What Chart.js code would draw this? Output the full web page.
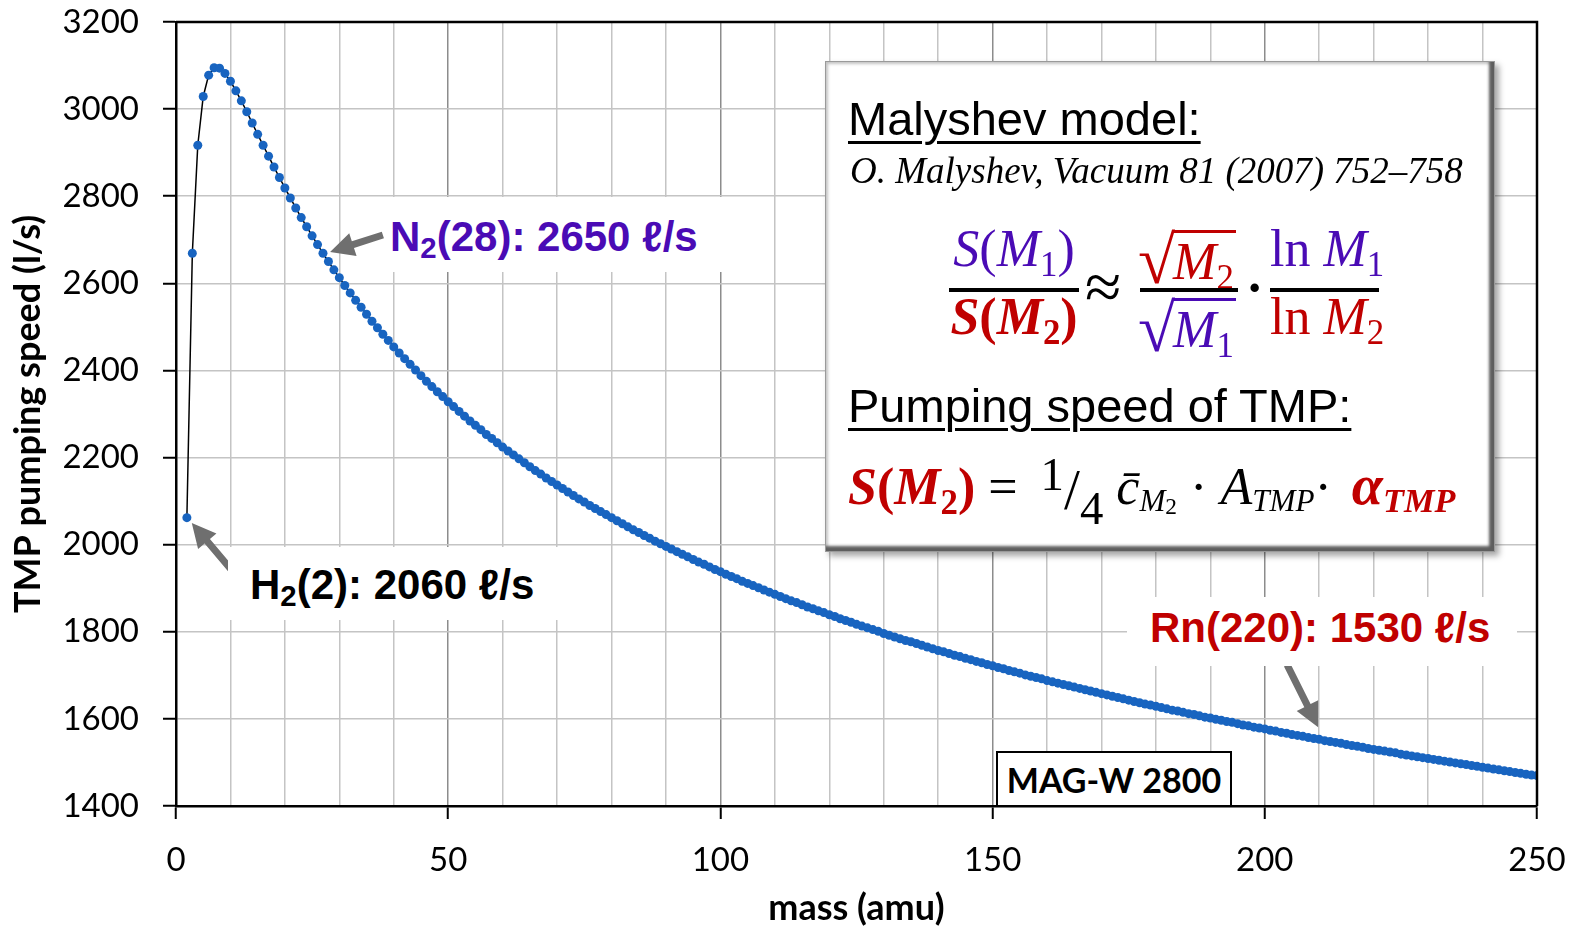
<!DOCTYPE html>
<html>
<head>
<meta charset="utf-8">
<title>TMP pumping speed vs mass</title>
<script src="https://cdn.jsdelivr.net/npm/chart.js@4.4.0/dist/chart.umd.min.js"></script>
<style>
  body { margin: 0; background: #fff; }
  #wrap { position: relative; width: 1579px; height: 932px; }
  .abs { position: absolute; white-space: nowrap; line-height: 1; }
  .bg { position: absolute; background: #fff; }
  .note { font-family: 'Liberation Sans', Arial, sans-serif; font-weight: bold; font-size: 42px; }
  .sb { font-size: 0.7em; position: relative; top: 0.24em; line-height: 0; }
  .pur { color: #4a0bb5; }
  .red { color: #c00000; }
  .hdr { font-family: 'Liberation Sans', Arial, sans-serif; font-size: 47px; text-decoration: underline;
         text-decoration-thickness: 3px; text-underline-offset: 6px; }
  .cite { font-family: 'Liberation Serif', serif; font-style: italic; font-size: 37px; }
  .m { font-family: 'Liberation Serif', serif; font-size: 52px; }
  .ctr { text-align: center; }
  .ms { font-size: 0.67em; position: relative; top: 0.3em; line-height: 0; font-style: normal; }
  .ms2 { font-size: 0.6em; position: relative; top: 0.22em; line-height: 0; }
  .ms3 { font-size: 0.75em; position: relative; top: 0.15em; line-height: 0; }
  .bar { position: absolute; background: #000; height: 4px; }
  .rad { display: inline-block; font-size: 1.3em; position: relative; top: 0.06em; margin-right: -2px; }
  .ov { border-top: 3px solid currentColor; padding-right: 2px; }
  .up1 { font-size: 0.9em; position: relative; top: -0.3em; }
  .dn4 { font-size: 0.9em; position: relative; top: 0.42em; }
  .sl { font-size: 1.1em; position: relative; top: 0.08em; }
  #fbox { position: absolute; background: #fff; border: 1px solid #9a9a9a; box-sizing: border-box;
          box-shadow: inset -7px -7px 3px -2px #5e5e5e, inset 4px 4px 3px -2px #c4c4c4, 4px 4px 6px rgba(0,0,0,0.35); }
  #mag { position: absolute; border: 2px solid #000; background: #fff; box-sizing: border-box;
         display: flex; align-items: center; justify-content: center;
         font-family: Lato, sans-serif; font-weight: bold; font-size: 34px; }
</style>
</head>
<body>
<div id="wrap">
  <canvas id="chart"></canvas>

  <!-- labels for the three gases -->
  <div class="bg" style="left:385px;top:197px;width:340px;height:75px"></div>
  <div class="abs note pur" style="left:390px;top:216px">N<span class="sb">2</span>(28): 2650 ℓ/s</div>

  <div class="bg" style="left:228px;top:547px;width:332px;height:73px"></div>
  <div class="abs note" style="left:250px;top:564px">H<span class="sb">2</span>(2): 2060 ℓ/s</div>

  <div class="bg" style="left:1127px;top:597px;width:390px;height:69px"></div>
  <div class="abs note red" style="left:1150px;top:607px">Rn(220): 1530 ℓ/s</div>

  <div id="mag" style="left:996px;top:751px;width:236px;height:56px">MAG-W 2800</div>

  <!-- model box -->
  <div id="fbox" style="left:825px;top:61px;width:670px;height:491px"></div>
  <div class="abs hdr" style="left:848px;top:95px">Malyshev model:</div>
  <div class="abs cite" style="left:850px;top:152px">O. Malyshev, Vacuum 81 (2007) 752–758</div>

  <div class="abs m pur ctr" style="left:949px;top:223px;width:130px"><i>S</i>(<i>M</i><span class="ms">1</span>)</div>
  <div class="bar" style="left:949px;top:288px;width:130px"></div>
  <div class="abs m red ctr" style="left:949px;top:291px;width:130px;font-weight:bold"><i>S</i>(<i>M</i><span class="ms">2</span>)</div>

  <div class="abs m" style="left:1085px;top:254px;font-size:66px">≈</div>

  <div class="abs m red" style="left:1138px;top:223px"><span class="rad">√</span><span class="ov"><i>M</i><span class="ms">2</span></span></div>
  <div class="bar" style="left:1140px;top:288px;width:98px"></div>
  <div class="abs m pur" style="left:1138px;top:291px"><span class="rad">√</span><span class="ov"><i>M</i><span class="ms">1</span></span></div>

  <div class="abs m" style="left:1246px;top:262px;font-weight:bold">·</div>

  <div class="abs m pur ctr" style="left:1270px;top:223px;width:109px">ln <i>M</i><span class="ms">1</span></div>
  <div class="bar" style="left:1270px;top:288px;width:109px"></div>
  <div class="abs m red ctr" style="left:1270px;top:291px;width:109px">ln <i>M</i><span class="ms">2</span></div>

  <div class="abs hdr" style="left:848px;top:382px">Pumping speed of TMP:</div>

  <div class="abs m" style="left:848px;top:456px"><b class="red"><i>S</i>(<i>M</i><span class="ms">2</span>)</b> <span style="margin-right:10px">=</span> <span class="up1">1</span><span class="sl">/</span><span class="dn4">4</span> <i>c̄</i><span class="ms2"><i>M</i><span class="ms3">2</span></span> · <i>A</i><span class="ms2"><i>TMP</i></span>·<span style="margin-left:20px"></span><b class="red"><i style="font-size:1.08em">α</i><span class="ms2" style="font-size:0.66em"><i>TMP</i></span></b></div>
</div>

<script>
// mass (amu) of every computed point
const masses = [
  2, 3, 4, 5, 6, 7, 8, 9, 10, 11, 12, 13, 14, 15, 16, 17, 18, 19, 20, 21,
  22, 23, 24, 25, 26, 27, 28, 29, 30, 31, 32, 33, 34, 35, 36, 37, 38, 39, 40, 41,
  42, 43, 44, 45, 46, 47, 48, 49, 50, 51, 52, 53, 54, 55, 56, 57, 58, 59, 60, 61,
  62, 63, 64, 65, 66, 67, 68, 69, 70, 71, 72, 73, 74, 75, 76, 77, 78, 79, 80, 81,
  82, 83, 84, 85, 86, 87, 88, 89, 90, 91, 92, 93, 94, 95, 96, 97, 98, 99, 100, 101,
  102, 103, 104, 105, 106, 107, 108, 109, 110, 111, 112, 113, 114, 115, 116, 117, 118, 119, 120, 121,
  122, 123, 124, 125, 126, 127, 128, 129, 130, 131, 132, 133, 134, 135, 136, 137, 138, 139, 140, 141,
  142, 143, 144, 145, 146, 147, 148, 149, 150, 151, 152, 153, 154, 155, 156, 157, 158, 159, 160, 161,
  162, 163, 164, 165, 166, 167, 168, 169, 170, 171, 172, 173, 174, 175, 176, 177, 178, 179, 180, 181,
  182, 183, 184, 185, 186, 187, 188, 189, 190, 191, 192, 193, 194, 195, 196, 197, 198, 199, 200, 201,
  202, 203, 204, 205, 206, 207, 208, 209, 210, 211, 212, 213, 214, 215, 216, 217, 218, 219, 220, 221,
  222, 223, 224, 225, 226, 227, 228, 229, 230, 231, 232, 233, 234, 235, 236, 237, 238, 239, 240, 241,
  242, 243, 244, 245, 246, 247, 248, 249, 250
];

// TMP pumping speed (l/s) read at each mass
const speeds = [
  2062, 2669, 2917, 3029, 3078, 3095, 3094, 3082, 3064, 3042,
  3019, 2994, 2968, 2942, 2917, 2892, 2867, 2843, 2819, 2796,
  2773, 2751, 2730, 2709, 2689, 2669, 2650, 2631, 2613, 2595,
  2578, 2561, 2545, 2529, 2513, 2498, 2483, 2469, 2454, 2440,
  2427, 2414, 2401, 2388, 2375, 2363, 2351, 2340, 2328, 2317,
  2306, 2295, 2284, 2274, 2264, 2253, 2244, 2234, 2224, 2215,
  2206, 2197, 2188, 2179, 2170, 2162, 2153, 2145, 2137, 2129,
  2121, 2113, 2105, 2098, 2090, 2083, 2076, 2069, 2062, 2055,
  2048, 2041, 2034, 2028, 2021, 2015, 2008, 2002, 1996, 1990,
  1984, 1978, 1972, 1966, 1960, 1955, 1949, 1943, 1938, 1932,
  1927, 1922, 1916, 1911, 1906, 1901, 1896, 1891, 1886, 1881,
  1876, 1871, 1867, 1862, 1857, 1853, 1848, 1844, 1839, 1835,
  1830, 1826, 1822, 1817, 1813, 1809, 1805, 1801, 1796, 1792,
  1788, 1784, 1780, 1777, 1773, 1769, 1765, 1761, 1757, 1754,
  1750, 1746, 1743, 1739, 1736, 1732, 1729, 1725, 1722, 1718,
  1715, 1711, 1708, 1705, 1701, 1698, 1695, 1692, 1688, 1685,
  1682, 1679, 1676, 1673, 1670, 1667, 1664, 1661, 1658, 1655,
  1652, 1649, 1646, 1643, 1640, 1637, 1634, 1632, 1629, 1626,
  1623, 1620, 1618, 1615, 1612, 1610, 1607, 1604, 1602, 1599,
  1597, 1594, 1592, 1589, 1586, 1584, 1581, 1579, 1577, 1574,
  1572, 1569, 1567, 1564, 1562, 1560, 1557, 1555, 1553, 1550,
  1548, 1546, 1544, 1541, 1539, 1537, 1535, 1532, 1530, 1528,
  1526, 1524, 1522, 1519, 1517, 1515, 1513, 1511, 1509, 1507,
  1505, 1503, 1501, 1499, 1497, 1495, 1493, 1491, 1489, 1487,
  1485, 1483, 1481, 1479, 1477, 1475, 1473, 1471, 1470
];

// axis ranges and steps
const xMin = 0, xMax = 250, xGridStep = 10, xLabelStep = 50;
const yMin = 1400, yMax = 3200, yStep = 200;

// arrows of the gas labels, in data units: tail -> tip
const arrows = [
  { from: [38.0, 2711], to: [28.3, 2672] },
  { from: [11.4, 1924], to: [2.9, 2050] },
  { from: [204.1, 1724], to: [209.8, 1581] }
];

function drawArrow(ctx, x1, y1, x2, y2) {
  const ang = Math.atan2(y2 - y1, x2 - x1);
  const head = 24, half = 12, shaft = 3.5;
  const bx = x2 - head * Math.cos(ang), by = y2 - head * Math.sin(ang);
  const nx = -Math.sin(ang), ny = Math.cos(ang);
  ctx.beginPath();
  ctx.moveTo(x1 + nx * shaft, y1 + ny * shaft);
  ctx.lineTo(bx + nx * shaft, by + ny * shaft);
  ctx.lineTo(bx + nx * half, by + ny * half);
  ctx.lineTo(x2, y2);
  ctx.lineTo(bx - nx * half, by - ny * half);
  ctx.lineTo(bx - nx * shaft, by - ny * shaft);
  ctx.lineTo(x1 - nx * shaft, y1 - ny * shaft);
  ctx.closePath();
  ctx.fill();
}

const framePlugin = {
  id: 'frame',
  afterDraw(chart) {
    const { ctx, chartArea: a, scales } = chart;
    ctx.save();
    ctx.strokeStyle = '#000';
    ctx.lineWidth = 2.5;
    ctx.beginPath();
    ctx.moveTo(a.left, a.top);
    ctx.lineTo(a.right, a.top);
    ctx.lineTo(a.right, a.bottom);
    ctx.stroke();

    ctx.fillStyle = '#6f6f6f';
    arrows.forEach(ar => {
      drawArrow(ctx,
        scales.x.getPixelForValue(ar.from[0]), scales.y.getPixelForValue(ar.from[1]),
        scales.x.getPixelForValue(ar.to[0]), scales.y.getPixelForValue(ar.to[1]));
    });
    ctx.restore();
  }
};

const points = masses.map((m, i) => ({ x: m, y: speeds[i] }));

new Chart(document.getElementById('chart'), {
  type: 'scatter',
  data: {
    datasets: [{
      data: points,
      showLine: true,
      borderColor: '#000',
      borderWidth: 1.5,
      pointRadius: 4.5,
      pointHoverRadius: 4.5,
      pointBackgroundColor: '#1864c0',
      pointBorderWidth: 0
    }]
  },
  options: {
    animation: false,
    responsive: true,
    maintainAspectRatio: false,
    devicePixelRatio: 1,
    layout: { padding: { left: 0, right: 42, top: 22, bottom: 0 } },
    plugins: { legend: { display: false }, tooltip: { enabled: false } },
    scales: {
      x: {
        type: 'linear',
        min: xMin,
        max: xMax,
        afterFit: s => { s.height = 126; s.paddingLeft = 0; s.paddingRight = 0; },
        ticks: {
          stepSize: xGridStep,
          autoSkip: false,
          maxRotation: 0,
          padding: 22,
          color: '#000',
          font: { family: 'Lato', size: 33 },
          callback: v => (v % xLabelStep === 0 ? String(v) : '')
        },
        grid: {
          color: c => (c.tick && c.tick.value % xLabelStep === 0 ? '#8c8c8c' : '#c4c4c4'),
          lineWidth: 1.5,
          tickLength: 13,
          tickWidth: 2,
          tickColor: c => (c.tick && c.tick.value % xLabelStep === 0 ? '#000' : 'rgba(0,0,0,0)')
        },
        border: { color: '#000', width: 2.5 },
        title: {
          display: true,
          text: 'mass (amu)',
          color: '#000',
          font: { family: 'Lato', size: 36, weight: 'bold' },
          padding: { top: 0, bottom: 2 }
        }
      },
      y: {
        min: yMin,
        max: yMax,
        afterFit: s => { s.width = 176; s.paddingTop = 0; s.paddingBottom = 0; },
        ticks: {
          stepSize: yStep,
          padding: 24,
          color: '#000',
          font: { family: 'Lato', size: 33 },
          callback: v => String(v)
        },
        grid: {
          color: '#c4c4c4',
          lineWidth: 1.5,
          tickLength: 13,
          tickWidth: 2,
          tickColor: '#000'
        },
        border: { color: '#000', width: 2.5 },
        title: {
          display: true,
          text: 'TMP pumping speed (l/s)',
          color: '#000',
          font: { family: 'Lato', size: 36, weight: 'bold' },
          padding: { top: 7, bottom: 0 }
        }
      }
    }
  },
  plugins: [framePlugin]
});
</script>
</body>
</html>
